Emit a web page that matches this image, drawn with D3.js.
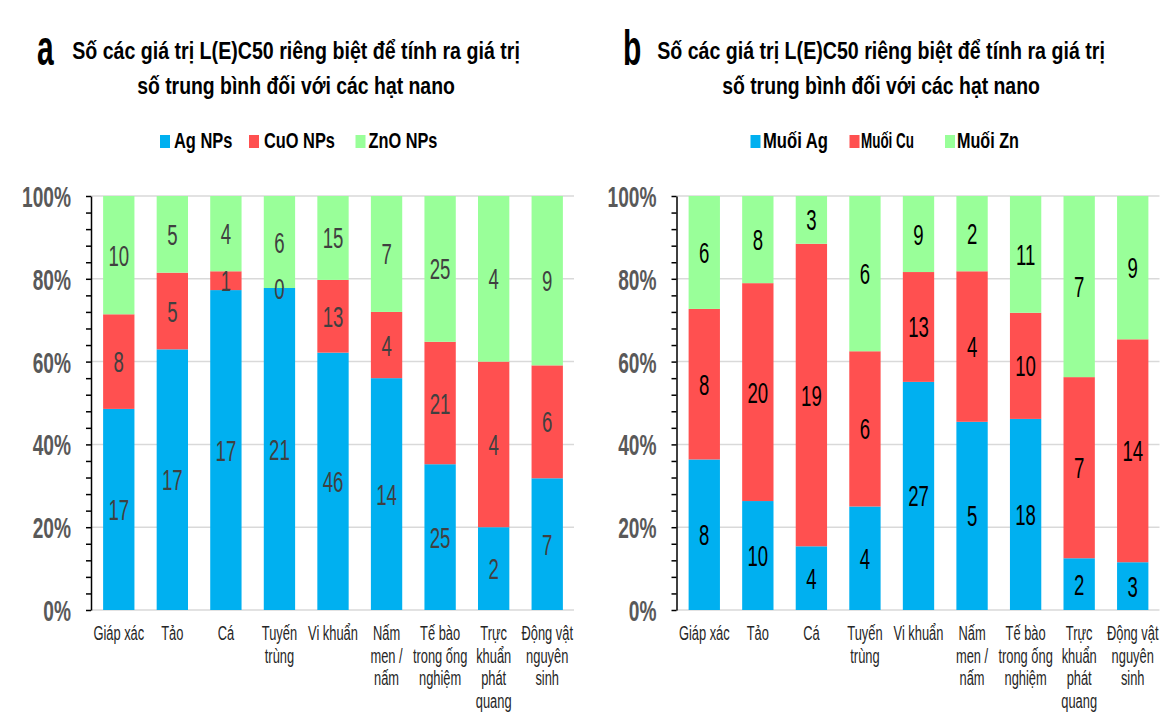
<!DOCTYPE html>
<html>
<head>
<meta charset="utf-8">
<script src="https://cdn.jsdelivr.net/npm/d3@7"></script>
<style>
  html, body { margin: 0; padding: 0; background: #fff; }
  svg { display: block; }
  text { font-family: "Liberation Sans", Arial, sans-serif; }
</style>
</head>
<body>
<svg id="chart" width="1171" height="713"></svg>
<script>
// ---- data ----
const categories = ["Giáp xác", "Tảo", "Cá", "Tuyến\ntrùng", "Vi khuẩn", "Nấm\nmen /\nnấm",
  "Tế bào\ntrong ống\nnghiệm", "Trực\nkhuẩn\nphát\nquang", "Động vật\nnguyên\nsinh"];
const titleLines = ["Số các giá trị L(E)C50 riêng biệt để tính ra giá trị", "số trung bình đối với các hạt nano"];
const seriesNamesA = ["Ag NPs", "CuO NPs", "ZnO NPs"];
const agNPs  = [17, 17, 17, 21, 46, 14, 25, 2, 7];
const cuoNPs = [8, 5, 1, 0, 13, 4, 21, 4, 6];
const znoNPs = [10, 5, 4, 6, 15, 7, 25, 4, 9];
const seriesNamesB = ["Muối Ag", "Muối Cu", "Muối Zn"];
const agSalt = [8, 10, 4, 4, 27, 5, 18, 2, 3];
const cuSalt = [8, 20, 19, 6, 13, 4, 10, 7, 14];
const znSalt = [6, 8, 3, 6, 9, 2, 11, 7, 9];
const yTickValues = [0, 0.2, 0.4, 0.6, 0.8, 1.0];

const colors = ["#00B0F0", "#FF5050", "#99FF99"];
const svg = d3.select("#chart");

function ctext(parent, x, y, str, o) {
  const t = parent.append("text")
    .attr("text-anchor", o.anchor || "start")
    .attr("font-size", o.size)
    .attr("font-weight", o.weight || "normal")
    .attr("fill", o.fill || "#000")
    .text(str);
  let sx = o.sx || 1;
  if (o.width) {
    const len = t.node().getComputedTextLength();
    if (len > 0) sx = o.width / len;
  }
  t.attr("transform", `translate(${x},${y}) scale(${sx},1)`);
  return t;
}

const panels = [
  { letter: "a", names: seriesNamesA, series: [agNPs, cuoNPs, znoNPs], x0: 92, x1: 574,
    letterX: 37, titleCx: 296, labelFill: "#404040",
    legSq: [160, 249, 355.5], legTx: [174, 264, 368.5], legW: [58.5, 71, 69] },
  { letter: "b", names: seriesNamesB, series: [agSalt, cuSalt, znSalt], x0: 677.5, x1: 1159.5,
    letterX: 623, titleCx: 881, labelFill: "#000",
    legSq: [750.5, 849.5, 945], legTx: [763, 861, 957], legW: [65, 53, 62] }
];

const yTop = 196, yBot = 610;

panels.forEach(p => {
  const g = svg.append("g");
  const rows = categories.map((c, i) => {
    const r = { cat: c };
    p.names.forEach((n, k) => r[n] = p.series[k][i]);
    return r;
  });
  const stack = d3.stack().keys(p.names).offset(d3.stackOffsetExpand)(rows);
  const x = d3.scaleBand().domain(categories).range([p.x0, p.x1]).paddingInner(0.415).paddingOuter(0.2075);
  const y = d3.scaleLinear().domain([0, 1]).range([yBot, yTop]);

  // gridlines
  g.append("g").selectAll("line").data(yTickValues).join("line")
    .attr("x1", p.x0 - 1).attr("x2", p.x1)
    .attr("y1", d => y(d)).attr("y2", d => y(d))
    .attr("stroke", "#d9d9d9").attr("stroke-width", 1.5);

  // bars
  const layers = g.append("g").selectAll("g").data(stack).join("g")
    .attr("fill", (d, i) => colors[i]);
  layers.selectAll("rect").data(d => d).join("rect")
    .attr("x", d => x(d.data.cat))
    .attr("width", x.bandwidth())
    .attr("y", d => y(d[1]))
    .attr("height", d => y(d[0]) - y(d[1]));

  // value labels
  stack.forEach((layer, k) => {
    layer.forEach(d => {
      const cx = x(d.data.cat) + x.bandwidth() / 2;
      const cy = (y(d[0]) + y(d[1])) / 2 + 10.5;
      ctext(g, cx, cy, d.data[layer.key], { size: 30, sx: 0.62, anchor: "middle", fill: p.labelFill });
    });
  });

  // y axis
  const sx = 0.66;
  const yAxis = d3.axisLeft(y)
    .tickValues(d3.range(0, 26).map(i => i * 0.04))
    .tickSize(5).tickSizeOuter(0)
    .tickFormat(d => {
      const r = Math.round(d * 100);
      return r % 20 === 0 ? r + "%" : "";
    });
  const ag = g.append("g").attr("transform", `translate(${p.x0 - 1},0)`).call(yAxis);
  ag.select(".domain").attr("stroke", "#000").attr("stroke-width", 1.5);
  ag.selectAll(".tick line").attr("stroke", "#000").attr("stroke-width", 1.5);
  ag.selectAll(".tick text")
    .attr("font-family", "'Liberation Sans', Arial, sans-serif")
    .attr("font-size", 29).attr("font-weight", "bold").attr("fill", "#595959")
    .attr("x", -20 / sx).attr("dy", "0.36em")
    .attr("transform", `scale(${sx},1)`);

  // x labels
  categories.forEach(c => {
    const cx = x(c) + x.bandwidth() / 2;
    const t = g.append("text")
      .attr("transform", `translate(${cx},640) scale(0.66,1)`)
      .attr("text-anchor", "middle").attr("font-size", 19.5).attr("fill", "#262626");
    c.split("\n").forEach((line, i) => {
      t.append("tspan").attr("x", 0).attr("y", i * 22.7).text(line);
    });
  });

  // panel letter & title
  ctext(g, p.letterX, 65, p.letter, { size: 50, weight: "bold", sx: 0.6 });
  ctext(g, p.titleCx, 59, titleLines[0], { size: 23, weight: "bold", anchor: "middle", width: 448 });
  ctext(g, p.titleCx, 94, titleLines[1], { size: 23, weight: "bold", anchor: "middle", width: 318 });

  // legend
  p.names.forEach((n, k) => {
    g.append("rect").attr("x", p.legSq[k]).attr("y", 135).attr("width", 10).attr("height", 13)
      .attr("fill", colors[k]);
    ctext(g, p.legTx[k], 148, n, { size: 22, weight: "bold", width: p.legW[k] });
  });
});
</script>
</body>
</html>
